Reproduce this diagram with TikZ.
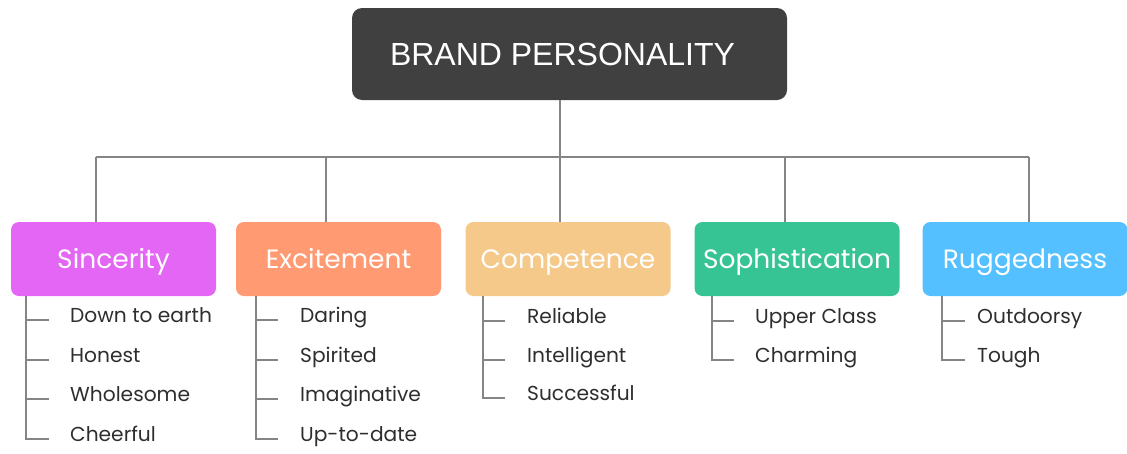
\documentclass[tikz,border=0pt]{standalone}
\usepackage{fontspec}
\setmainfont{Poppins}
\newfontfamily\headfont{Liberation Sans}
\definecolor{rootc}{HTML}{404040}
\definecolor{sinc}{HTML}{E466F5}
\definecolor{exc}{HTML}{FF9A72}
\definecolor{comp}{HTML}{F5C98A}
\definecolor{soph}{HTML}{36C495}
\definecolor{rugg}{HTML}{55C0FF}
\definecolor{linec}{HTML}{858585}
\definecolor{leafc}{HTML}{2E2E2E}
\begin{document}
\begin{tikzpicture}[x=1pt,y=-1pt,
  rootbox/.style={draw=none,fill=rootc,rounded corners=10pt,minimum width=435pt,minimum height=92pt,text=white,font=\headfont\fontsize{32}{36}\selectfont,inner sep=0pt},
  catbox/.style={draw=none,rounded corners=8pt,minimum width=205pt,minimum height=74pt,text=white,font=\fontsize{26.5}{30}\selectfont,inner sep=0pt,text height=18.5pt,text depth=0pt},
  leaf/.style={anchor=mid west,text=leafc,font=\fontsize{20.2}{24}\selectfont,inner sep=0pt},
  conn/.style={draw=linec,line width=1.3pt}]
\useasboundingbox (0,0) rectangle (1127,453);
% root
\node[rootbox] (root) at (569.5,54) {\hspace*{-14pt}BRAND PERSONALITY};
% categories
\node[catbox,fill=sinc] (c1) at (113.5,259) {Sincerity};
\node[catbox,fill=exc]  (c2) at (338.5,259) {Excitement};
\node[catbox,fill=comp] (c3) at (568,259) {Competence};
\node[catbox,fill=soph] (c4) at (797,259) {Sophistication};
\node[catbox,fill=rugg] (c5) at (1025,259) {Ruggedness};
% bus
\coordinate (b1) at (96,157);
\coordinate (b2) at (326,157);
\coordinate (b3) at (560,157);
\coordinate (b4) at (785,157);
\coordinate (b5) at (1029,157);
\draw[conn] (root.south -| b3) -- (b3);
\draw[conn] (b1) -- (b5);
\foreach \i in {1,...,5} {\draw[conn] (b\i) -- (b\i |- c\i.north);}
% leaves
\node[leaf] (l11) at (70,320) {Down to earth};
\node[leaf] (l12) at (70,360) {Honest};
\node[leaf] (l13) at (70,399) {Wholesome};
\node[leaf] (l14) at (70,439) {Cheerful};
\node[leaf] (l21) at (300,320) {Daring};
\node[leaf] (l22) at (300,360) {Spirited};
\node[leaf] (l23) at (300,399) {Imaginative};
\node[leaf] (l24) at (300,439) {Up-to-date};
\node[leaf] (l31) at (527,321) {Reliable};
\node[leaf] (l32) at (527,360) {Intelligent};
\node[leaf] (l33) at (527,398) {Successful};
\node[leaf] (l41) at (755,321) {Upper Class};
\node[leaf] (l42) at (755,360) {Charming};
\node[leaf] (l51) at (977,321) {Outdoorsy};
\node[leaf] (l52) at (977,360) {Tough};
% trunk coordinates
\coordinate (t1) at (26,0);
\coordinate (t2) at (256,0);
\coordinate (t3) at (483,0);
\coordinate (t4) at (712,0);
\coordinate (t5) at (942,0);
\draw[conn] (c1.south -| t1) |- ([xshift=-21pt]l14.mid west);
\foreach \k in {1,2,3} \draw[conn] (t1 |- l1\k.mid west) -- ([xshift=-21pt]l1\k.mid west);
\draw[conn] (c2.south -| t2) |- ([xshift=-22pt]l24.mid west);
\foreach \k in {1,2,3} \draw[conn] (t2 |- l2\k.mid west) -- ([xshift=-22pt]l2\k.mid west);
\draw[conn] (c3.south -| t3) |- ([xshift=-22pt]l33.mid west);
\foreach \k in {1,2} \draw[conn] (t3 |- l3\k.mid west) -- ([xshift=-22pt]l3\k.mid west);
\draw[conn] (c4.south -| t4) |- ([xshift=-21pt]l42.mid west);
\draw[conn] (t4 |- l41.mid west) -- ([xshift=-21pt]l41.mid west);
\draw[conn] (c5.south -| t5) |- ([xshift=-12pt]l52.mid west);
\draw[conn] (t5 |- l51.mid west) -- ([xshift=-12pt]l51.mid west);
\end{tikzpicture}
\end{document}
